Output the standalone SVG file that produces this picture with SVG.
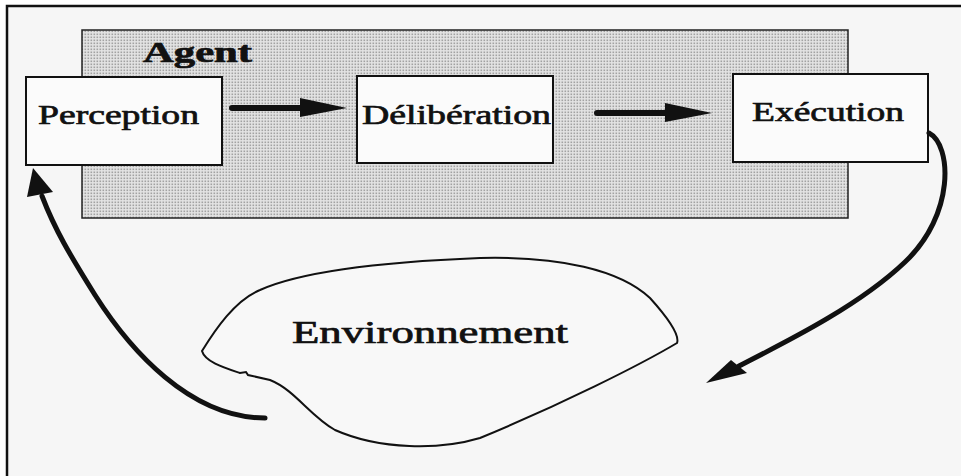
<svg xmlns="http://www.w3.org/2000/svg" width="961" height="476" viewBox="0 0 961 476">
  <style>
    .box { fill: #fbfbfb; stroke: #111; stroke-width: 2; }
    .lbl { font-family: "Liberation Serif", "Times New Roman", serif; fill: #111; stroke: #111; stroke-width: 0.7; }
    .conn { fill: none; stroke: #111; stroke-linecap: round; }
    .head { fill: #111; }
  </style>
  <defs>
    <!-- halftone dot screen for the agent panel -->
    <pattern id="screen" width="3" height="3" patternUnits="userSpaceOnUse">
      <rect width="3" height="3" fill="#e4e4e4"/>
      <rect x="0.5" y="0.5" width="1.6" height="1.6" fill="#a2a2a2"/>
    </pattern>
  </defs>

  <!-- page -->
  <rect x="0" y="0" width="961" height="476" fill="#ffffff"/>
  <rect x="7" y="6" width="954" height="470" fill="#f6f6f6"/>
  <path d="M7,476 V6 H961" fill="none" stroke="#111" stroke-width="2.5"/>

  <!-- agent panel -->
  <g id="agent">
    <rect x="82" y="30" width="766" height="188" fill="url(#screen)" stroke="#222" stroke-width="1.5"/>
    <text class="lbl" x="143" y="62" font-size="29" font-weight="bold" stroke-width="0.3" textLength="109" lengthAdjust="spacingAndGlyphs">Agent</text>
  </g>

  <g id="perception">
    <rect class="box" x="26" y="77" width="196" height="88"/>
    <text class="lbl" x="38" y="124" font-size="27" textLength="161" lengthAdjust="spacingAndGlyphs">Perception</text>
  </g>

  <g id="deliberation">
    <rect class="box" x="357" y="76" width="196" height="87"/>
    <text class="lbl" x="362" y="124" font-size="27" textLength="189" lengthAdjust="spacingAndGlyphs">Délibération</text>
  </g>

  <g id="execution">
    <rect class="box" x="733" y="74" width="195" height="88"/>
    <text class="lbl" x="752" y="121" font-size="27" textLength="152" lengthAdjust="spacingAndGlyphs">Exécution</text>
  </g>

  <g id="environnement">
    <path d="M202,351 C215,330 235,300 260,290 C300,272 380,262 480,258 C560,256 620,270 650,298 C668,318 680,335 677,343 C640,365 560,405 480,438 C440,450 380,450 335,430 C310,416 295,390 270,380 L248,375 L246,372 L240,373 C225,368 205,362 202,351 Z" fill="#f8f8f8" stroke="#111" stroke-width="2"/>
    <text class="lbl" x="292" y="343" font-size="31" stroke-width="0.2" textLength="276" lengthAdjust="spacingAndGlyphs">Environnement</text>
  </g>

  <g id="connectors">
    <!-- Perception to Délibération -->
    <line class="conn" x1="232" y1="108" x2="304" y2="108" stroke-width="6" stroke-linecap="butt"/>
    <polygon class="head" points="300,98 347,108 300,117"/>
    <!-- Délibération to Exécution -->
    <line class="conn" x1="597" y1="113" x2="668" y2="113" stroke-width="6" stroke-linecap="butt"/>
    <polygon class="head" points="665,103 712,113 665,122"/>
    <!-- Exécution to environment -->
    <path class="conn" d="M929,133 C952,145 955,215 905,262 C860,305 790,340 739,366" stroke-width="5"/>
    <polygon class="head" points="706,383 731,360 747,373"/>
    <!-- environment to Perception -->
    <path class="conn" d="M265,418 C190,418 130,350 95,295 C70,255 55,230 42,196" stroke-width="5"/>
    <polygon class="head" points="33,168 53,192 27,197"/>
  </g>
</svg>
